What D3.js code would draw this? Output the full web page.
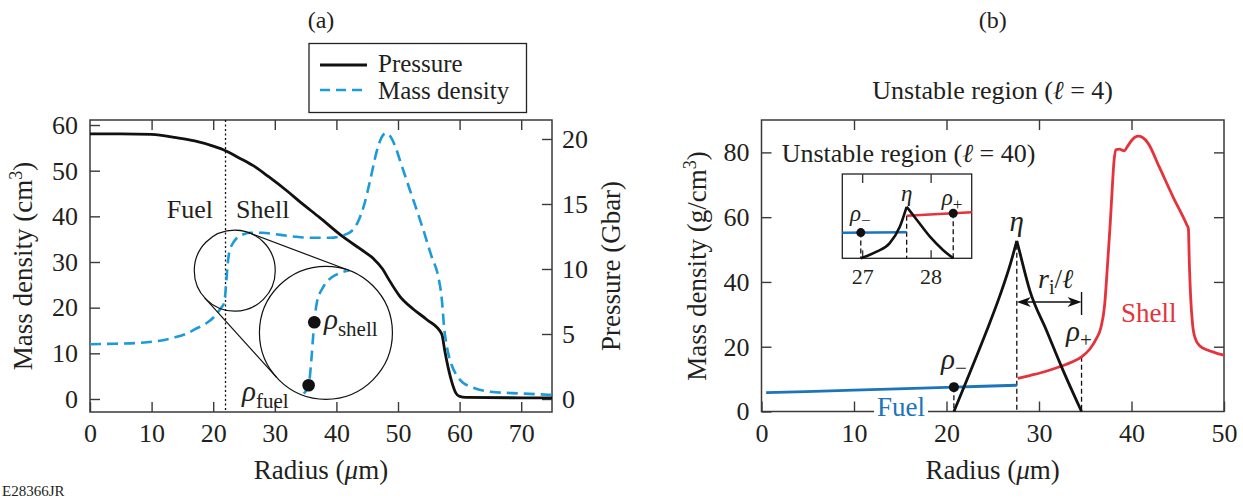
<!DOCTYPE html>
<html>
<head>
<meta charset="utf-8">
<script src="https://cdn.jsdelivr.net/npm/d3@7"></script>
<style>
  body { margin: 0; background: #fff; }
  svg { display: block; font-family: "Liberation Serif", "Times New Roman", serif; }
  text { font-family: "Liberation Serif", "Times New Roman", serif; }
</style>
</head>
<body>
<svg id="fig" width="1243" height="498"></svg>
<script>
// ---------- Panel (a): pressure and mass density vs radius ----------
const radiusPressure = [0, 5, 10, 14, 17, 20, 22, 24, 26.5, 29, 32, 34, 37.3, 41, 44, 46, 47.5, 48.5, 50.3, 52.5, 54.7, 57.1, 57.6, 58.2, 58.8, 59.4, 60, 61, 75];
const pressureGbar   = [20.4, 20.4, 20.35, 20.1, 19.85, 19.45, 19.1, 18.6, 17.95, 17.1, 16.0, 15.2, 13.95, 12.5, 11.5, 10.8, 10.0, 9.2, 7.9, 6.9, 6.1, 5.0, 3.7, 2.3, 1.2, 0.45, 0.2, 0.12, 0.08];

const radiusDensity = [0, 4, 8, 11, 13.5, 15.5, 17.5, 19, 20.3, 21.2, 21.79, 22.06, 22.25, 22.35, 22.6, 23.15, 23.8, 24.6, 26, 28, 30, 33, 36, 39, 41, 42.5, 43.5, 44.5, 45.5, 46.5, 47.3, 48, 48.6, 49.5, 50.5, 52, 54, 55.5, 56.5, 57.1, 57.5, 58, 58.7, 59.5, 60.5, 62, 65, 70, 75];
const massDensity   = [12.0, 12.1, 12.3, 12.7, 13.4, 14.2, 15.6, 16.7, 18.2, 19.8, 21.1, 24.5, 27.9, 29.5, 32.1, 34.0, 35.2, 35.9, 36.4, 36.4, 36.1, 35.6, 35.3, 35.3, 35.8, 36.8, 38.8, 42.5, 48, 54, 57.2, 58.2, 57.8, 55.5, 51.5, 45.5, 37.5, 31, 27, 22, 15.5, 11, 7.5, 5.2, 3.6, 2.6, 1.6, 1.2, 0.9];

const fuelShellInterface = 22;          // µm, dotted divider
const zoomSmall = { r: 23.5, v: 28.1 }; // centre of the small magnifier (data units)
const zoomBig   = { r: 38.3, v: 14.5 }; // centre of the enlarged view (data units)
const markedPoints = [ { name: "fuel", r: 21.79, v: 21.1 }, { name: "shell", r: 22.35, v: 29.5 } ];

const ticksAx = [0, 10, 20, 30, 40, 50, 60, 70];
const ticksAdensity = [0, 10, 20, 30, 40, 50, 60];
const ticksApressure = [0, 5, 10, 15, 20];

// ---------- Panel (b): unstable region, l = 4 ----------
const fuelR = [0.5, 10, 20, 27.6];
const fuelV = [5.8, 6.6, 7.45, 8.1];
const shellR = [27.7, 29, 30.5, 32, 33.5, 34.6, 35.5, 36.2, 36.7, 37.1, 37.4, 37.7, 37.9, 38.1, 38.3, 38.7, 39.2, 39.6, 40.1, 40.7, 41.2, 41.8, 43, 44.5, 46, 46.15, 46.25, 46.4, 46.6, 46.9, 47.4, 48.2, 49, 50];
const shellV = [10.2, 11.1, 12.2, 13.6, 15.2, 16.9, 19.3, 22.5, 26, 33, 45, 58, 68, 77, 80.8, 81, 80.5, 82, 84, 85, 84.6, 82.8, 75.5, 66.2, 57.5, 56.5, 46, 35, 27, 22.5, 20.2, 19, 18.2, 17.4];
const etaRiseR = [20.8, 22.5, 24.3, 25.8, 26.9, 27.6];
const etaRiseV = [0, 11.8, 24.6, 36.0, 45.5, 52.7];
const etaFallR = [27.6, 27.95, 29, 30.8, 32.6, 34.6];
const etaFallV = [52.7, 48.8, 37.4, 25.1, 12.7, 0];
const arrowLevel = 33.8;

const ticksBx = [0, 10, 20, 30, 40, 50];
const ticksBy = [0, 20, 40, 60, 80];

// ---------- Inset: unstable region, l = 40 ----------
const insetFuelR = [26.71, 27.65];
const insetFuelV = [8.05, 8.1];
const insetShellR = [27.65, 28.6];
const insetShellV = [10.2, 10.65];
const insetRiseR = [26.98, 27.21, 27.4, 27.55, 27.65];
const insetRiseV = [4.8, 5.64, 6.7, 8.8, 11.34];
const insetFallR = [27.65, 27.8, 27.99, 28.18, 28.33];
const insetFallV = [11.34, 9.66, 7.54, 5.86, 4.8];
const ticksInset = [27, 28];

// ---------- drawing ----------
const svg = d3.select("#fig");
const serif = '"Liberation Serif", "Times New Roman", serif';
const ink = "#231f20";
const frameInk = "#3a3a3a";
const blueDash = "#1b9bd7";
const blueFuel = "#1c74bc";
const redShell = "#e5323b";

const zip = (a, b) => a.map((r, i) => ({ r, v: b[i] }));

function styleAxis(g, fs) {
  g.attr("font-family", serif).attr("font-size", fs);
  g.select(".domain").remove();
  g.selectAll(".tick line").attr("stroke", frameInk).attr("stroke-width", 1.4);
  g.selectAll(".tick text").attr("fill", ink).attr("font-family", serif);
}

function addText(parent, x, y, parts, opts = {}) {
  const t = parent.append("text").attr("x", x).attr("y", y).attr("fill", opts.fill || ink)
    .attr("font-family", serif)
    .attr("font-size", opts.size || 26).attr("text-anchor", opts.anchor || "start");
  if (opts.rotate) t.attr("transform", `rotate(${opts.rotate},${x},${y})`);
  parts.forEach(p => {
    const s = t.append("tspan").text(p.t);
    if (p.size) s.attr("font-size", p.size);
    if (p.italic) s.attr("font-style", "italic");
    if (p.dy) s.attr("dy", p.dy);
  });
  return t;
}

// ===== Panel (a) =====
const xA = d3.scaleLinear().domain([0, 75]).range([90, 552]);
const yA = d3.scaleLinear().domain([-2.85, 61.1]).range([412, 120]);
const yP = d3.scaleLinear().domain([-1.0, 21.46]).range([412, 120]);

const gA = svg.append("g");
gA.append("rect").attr("x", 90).attr("y", 120).attr("width", 462).attr("height", 292)
  .attr("fill", "none").attr("stroke", frameInk).attr("stroke-width", 1.5);

styleAxis(gA.append("g").attr("transform", "translate(0,412)")
  .call(d3.axisBottom(xA).tickValues(ticksAx).tickSize(-10).tickPadding(12)), 26);
styleAxis(gA.append("g").attr("transform", "translate(0,120)")
  .call(d3.axisTop(xA).tickValues(ticksAx.slice(1)).tickSize(-10).tickFormat("")), 26);
styleAxis(gA.append("g").attr("transform", "translate(90,0)")
  .call(d3.axisLeft(yA).tickValues(ticksAdensity).tickSize(-10).tickPadding(12)), 26);
styleAxis(gA.append("g").attr("transform", "translate(552,0)")
  .call(d3.axisRight(yP).tickValues(ticksApressure).tickSize(-10).tickPadding(10)), 26);

// fuel / shell divider
gA.append("line").attr("x1", xA(fuelShellInterface)).attr("x2", xA(fuelShellInterface))
  .attr("y1", 120).attr("y2", 412).attr("stroke", "#111").attr("stroke-width", 1.3)
  .attr("stroke-dasharray", "2,2.5");

const densityPts = zip(radiusDensity, massDensity);
const pressurePts = zip(radiusPressure, pressureGbar);

gA.append("path").datum(pressurePts)
  .attr("d", d3.line().x(d => xA(d.r)).y(d => yP(d.v)).curve(d3.curveMonotoneX))
  .attr("fill", "none").attr("stroke", "#111").attr("stroke-width", 2.8);

gA.append("path").datum(densityPts)
  .attr("d", d3.line().x(d => xA(d.r)).y(d => yA(d.v)).curve(d3.curveMonotoneX))
  .attr("fill", "none").attr("stroke", blueDash).attr("stroke-width", 2.6)
  .attr("stroke-dasharray", "11,6");

// magnifier: small circle on the curve, enlarged copy in the big circle
const c1 = [xA(zoomSmall.r), yA(zoomSmall.v)], r1 = 40.5;
const c2 = [xA(zoomBig.r), yA(zoomBig.v)], r2 = 66.5;
const k = r2 / r1;
const mag = (px, py) => [c2[0] + k * (px - c1[0]), c2[1] + k * (py - c1[1])];

gA.append("circle").attr("cx", c1[0]).attr("cy", c1[1]).attr("r", r1)
  .attr("fill", "none").attr("stroke", "#111").attr("stroke-width", 1.2);
gA.append("circle").attr("cx", c2[0]).attr("cy", c2[1]).attr("r", r2)
  .attr("fill", "none").attr("stroke", "#111").attr("stroke-width", 1.2);

// external tangents joining the two circles
const dx = c2[0] - c1[0], dy = c2[1] - c1[1];
const dist = Math.hypot(dx, dy), theta = Math.atan2(dy, dx);
const alpha = Math.acos((r1 - r2) / dist);
[theta - alpha, theta + alpha].forEach(a => {
  gA.append("line")
    .attr("x1", c1[0] + r1 * Math.cos(a)).attr("y1", c1[1] + r1 * Math.sin(a))
    .attr("x2", c2[0] + r2 * Math.cos(a)).attr("y2", c2[1] + r2 * Math.sin(a))
    .attr("stroke", "#111").attr("stroke-width", 1.2);
});

svg.append("defs").append("clipPath").attr("id", "bigZoom")
  .append("circle").attr("cx", c2[0]).attr("cy", c2[1]).attr("r", r2 - 0.8);

const zoomPts = densityPts.filter(d => d.r >= 18 && d.r <= 30);
gA.append("path").datum(zoomPts).attr("clip-path", "url(#bigZoom)")
  .attr("d", d3.line()
    .x(d => mag(xA(d.r), yA(d.v))[0])
    .y(d => mag(xA(d.r), yA(d.v))[1])
    .curve(d3.curveMonotoneX))
  .attr("fill", "none").attr("stroke", blueDash).attr("stroke-width", 2.6)
  .attr("stroke-dasharray", "11,6");

gA.selectAll(".mark").data(markedPoints).join("circle")
  .attr("cx", d => mag(xA(d.r), yA(d.v))[0])
  .attr("cy", d => mag(xA(d.r), yA(d.v))[1])
  .attr("r", 6.3).attr("fill", "#111");

addText(gA, 324, 329, [{ t: "ρ", italic: true, size: 29 }, { t: "shell", size: 21, dy: 7 }]);
addText(gA, 242, 401, [{ t: "ρ", italic: true, size: 29 }, { t: "fuel", size: 21, dy: 7 }]);
addText(gA, 213, 218, [{ t: "Fuel" }], { anchor: "end", size: 26 });
addText(gA, 236, 218, [{ t: "Shell" }], { size: 26 });

// legend
const leg = gA.append("g");
leg.append("rect").attr("x", 309).attr("y", 43.5).attr("width", 217.5).attr("height", 69)
  .attr("fill", "#fff").attr("stroke", "#222").attr("stroke-width", 1.3);
leg.append("line").attr("x1", 320).attr("x2", 367).attr("y1", 65).attr("y2", 65)
  .attr("stroke", "#111").attr("stroke-width", 2.8);
leg.append("line").attr("x1", 320).attr("x2", 367).attr("y1", 90).attr("y2", 90)
  .attr("stroke", blueDash).attr("stroke-width", 2.6).attr("stroke-dasharray", "10,6");
addText(leg, 378, 72, [{ t: "Pressure" }], { size: 25 });
addText(leg, 378, 99, [{ t: "Mass density" }], { size: 25 });

addText(gA, 321, 28, [{ t: "(a)" }], { anchor: "middle", size: 24 });
addText(gA, 321, 479, [{ t: "Radius (" }, { t: "μ", italic: true }, { t: "m)" }], { anchor: "middle", size: 27 });
addText(gA, 32, 266, [{ t: "Mass density (cm" }, { t: "3", size: 18, dy: -10 }, { t: ")", dy: 10 }],
  { anchor: "middle", size: 27, rotate: -90 });
addText(gA, 620, 266, [{ t: "Pressure (Gbar)" }], { anchor: "middle", size: 27, rotate: -90 });
addText(svg, 2, 496, [{ t: "E28366JR" }], { size: 15 });

// ===== Panel (b) =====
const xB = d3.scaleLinear().domain([0, 50]).range([761.5, 1224]);
const yB = d3.scaleLinear().domain([0, 90]).range([411.5, 120]);
const gB = svg.append("g");
gB.append("rect").attr("x", 761.5).attr("y", 120).attr("width", 462.5).attr("height", 291.5)
  .attr("fill", "none").attr("stroke", frameInk).attr("stroke-width", 1.5);

styleAxis(gB.append("g").attr("transform", "translate(0,411.5)")
  .call(d3.axisBottom(xB).tickValues(ticksBx).tickSize(-10).tickPadding(12)), 26);
styleAxis(gB.append("g").attr("transform", "translate(0,120)")
  .call(d3.axisTop(xB).tickValues(ticksBx.slice(1, -1)).tickSize(-10).tickFormat("")), 26);
styleAxis(gB.append("g").attr("transform", "translate(761.5,0)")
  .call(d3.axisLeft(yB).tickValues(ticksBy).tickSize(-10).tickPadding(12)), 26);
styleAxis(gB.append("g").attr("transform", "translate(1224,0)")
  .call(d3.axisRight(yB).tickValues(ticksBy.slice(1)).tickSize(-10).tickFormat("")), 26);

const lineB = d3.line().x(d => xB(d.r)).y(d => yB(d.v)).curve(d3.curveMonotoneX);
const fuelLine = d3.scaleLinear().domain(fuelR).range(fuelV);
const rhoMinusR = etaRiseR[0], rhoPlusR = etaFallR[etaFallR.length - 1], peakR = etaRiseR[etaRiseR.length - 1];
const shellAt = d3.scaleLinear().domain(shellR).range(shellV);

const dashV = (g, x, yTop, yBot, dash) => g.append("line").attr("x1", x).attr("x2", x)
  .attr("y1", yTop).attr("y2", yBot).attr("stroke", "#111").attr("stroke-width", 1.3)
  .attr("stroke-dasharray", dash);

dashV(gB, xB(peakR), yB(etaRiseV[etaRiseV.length - 1]) + 4, yB(0), "5,3");
dashV(gB, xB(rhoPlusR), yB(shellAt(rhoPlusR)), yB(0), "5,3");
dashV(gB, xB(rhoMinusR), yB(fuelLine(rhoMinusR)), yB(0), "5,3");

// "Fuel" label sits on a white patch over the axis line
gB.append("rect").attr("x", 874).attr("y", 396).attr("width", 54).attr("height", 24).attr("fill", "#fff");
addText(gB, 901, 416, [{ t: "Fuel" }], { anchor: "middle", size: 27, fill: blueFuel });

gB.append("path").datum(zip(fuelR, fuelV)).attr("d", lineB)
  .attr("fill", "none").attr("stroke", blueFuel).attr("stroke-width", 2.8);
gB.append("path").datum(zip(shellR, shellV)).attr("d", lineB)
  .attr("fill", "none").attr("stroke", redShell).attr("stroke-width", 2.8);
[zip(etaRiseR, etaRiseV), zip(etaFallR, etaFallV)].forEach(seg =>
  gB.append("path").datum(seg).attr("d", lineB)
    .attr("fill", "none").attr("stroke", "#111").attr("stroke-width", 2.8));

gB.append("circle").attr("cx", xB(rhoMinusR)).attr("cy", yB(fuelLine(rhoMinusR))).attr("r", 5).attr("fill", "#111");

// wavelength arrow r_i / l
const ay = yB(arrowLevel), ax0 = xB(peakR), ax1 = xB(rhoPlusR);
gB.append("line").attr("x1", ax0 + 4).attr("x2", ax1 - 4).attr("y1", ay).attr("y2", ay)
  .attr("stroke", "#111").attr("stroke-width", 1.4);
gB.append("path").attr("fill", "#111")
  .attr("d", `M${ax0},${ay} L${ax0 + 14},${ay - 5} L${ax0 + 10},${ay} L${ax0 + 14},${ay + 5} Z`);
gB.append("path").attr("fill", "#111")
  .attr("d", `M${ax1},${ay} L${ax1 - 14},${ay - 5} L${ax1 - 10},${ay} L${ax1 - 14},${ay + 5} Z`);
gB.append("line").attr("x1", ax1).attr("x2", ax1).attr("y1", ay - 10).attr("y2", ay + 13)
  .attr("stroke", "#111").attr("stroke-width", 1.4);

addText(gB, 1038, 288, [{ t: "r", italic: true, size: 28 }, { t: "i", size: 20, dy: 6 }, { t: "/", dy: -6, size: 27 }, { t: "ℓ", italic: true, size: 27 }]);
addText(gB, xB(peakR), 231, [{ t: "η", italic: true }], { anchor: "middle", size: 29 });
addText(gB, 1066, 341, [{ t: "ρ", italic: true, size: 29 }, { t: "+", size: 21, dy: 6 }]);
addText(gB, 941, 369, [{ t: "ρ", italic: true, size: 29 }, { t: "−", size: 21, dy: 6 }]);
addText(gB, 1121, 322, [{ t: "Shell" }], { size: 27, fill: redShell });

addText(gB, 992.7, 28, [{ t: "(b)" }], { anchor: "middle", size: 24 });
addText(gB, 992.7, 99, [{ t: "Unstable region (" }, { t: "ℓ", italic: true }, { t: " = 4)" }], { anchor: "middle", size: 26 });
addText(gB, 992.7, 479, [{ t: "Radius (" }, { t: "μ", italic: true }, { t: "m)" }], { anchor: "middle", size: 27 });
addText(gB, 706, 266, [{ t: "Mass density (g/cm" }, { t: "3", size: 18, dy: -10 }, { t: ")", dy: 10 }],
  { anchor: "middle", size: 27, rotate: -90 });
addText(gB, 781.7, 162, [{ t: "Unstable region (" }, { t: "ℓ", italic: true }, { t: " = 40)" }], { size: 26 });

// ===== Inset (l = 40) =====
const xI = d3.scaleLinear().domain([26.71, 28.6]).range([842.3, 971.7]);
const yI = d3.scaleLinear().domain([4.8, 15.5]).range([258.3, 174]);
const gI = svg.append("g");
gI.append("rect").attr("x", 842.3).attr("y", 174).attr("width", 129.4).attr("height", 84.3)
  .attr("fill", "#fff").attr("stroke", "#222").attr("stroke-width", 1.3);
styleAxis(gI.append("g").attr("transform", "translate(0,258.3)")
  .call(d3.axisBottom(xI).tickValues(ticksInset).tickSize(-8).tickPadding(10).tickFormat(d3.format("d"))), 22);
styleAxis(gI.append("g").attr("transform", "translate(0,174)")
  .call(d3.axisTop(xI).tickValues(ticksInset).tickSize(-9).tickFormat("")), 22);

const lineI = d3.line().x(d => xI(d.r)).y(d => yI(d.v)).curve(d3.curveMonotoneX);
const inFuel = d3.scaleLinear().domain(insetFuelR).range(insetFuelV);
const inShell = d3.scaleLinear().domain(insetShellR).range(insetShellV);
const inMinus = insetRiseR[0], inPlus = insetFallR[insetFallR.length - 1], inPeak = insetRiseR[insetRiseR.length - 1];

dashV(gI, xI(inPeak), yI(insetShellV[0]), yI(4.8), "5,3");
dashV(gI, xI(inMinus), yI(inFuel(inMinus)), yI(4.8), "5,3");
dashV(gI, xI(inPlus), yI(inShell(inPlus)), yI(4.8), "5,3");

gI.append("path").datum(zip(insetFuelR, insetFuelV)).attr("d", lineI)
  .attr("fill", "none").attr("stroke", blueFuel).attr("stroke-width", 2.6);
gI.append("path").datum(zip(insetShellR, insetShellV)).attr("d", lineI)
  .attr("fill", "none").attr("stroke", redShell).attr("stroke-width", 2.6);
[zip(insetRiseR, insetRiseV), zip(insetFallR, insetFallV)].forEach(seg =>
  gI.append("path").datum(seg).attr("d", lineI)
    .attr("fill", "none").attr("stroke", "#111").attr("stroke-width", 2.6));
gI.append("circle").attr("cx", xI(inMinus)).attr("cy", yI(inFuel(inMinus))).attr("r", 4.5).attr("fill", "#111");
gI.append("circle").attr("cx", xI(inPlus)).attr("cy", yI(inShell(inPlus))).attr("r", 4.5).attr("fill", "#111");

addText(gI, xI(inPeak), 201, [{ t: "η", italic: true }], { anchor: "middle", size: 23 });
addText(gI, 850, 221, [{ t: "ρ", italic: true, size: 23 }, { t: "−", size: 17, dy: 5 }]);
addText(gI, 941.7, 205, [{ t: "ρ", italic: true, size: 23 }, { t: "+", size: 17, dy: 5 }]);
</script>
</body>
</html>
